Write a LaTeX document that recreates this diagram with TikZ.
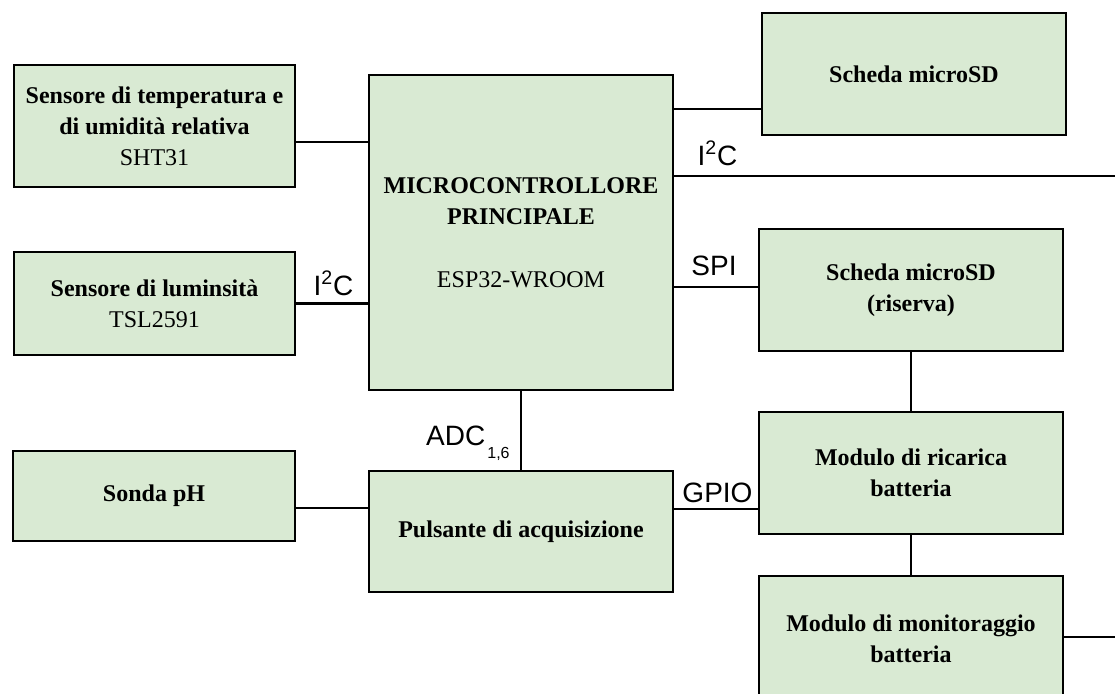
\documentclass[tikz,border=0pt]{standalone}
\usepackage{fontspec}
\setmainfont{Liberation Serif}
\newfontfamily\arialfont{Liberation Sans}
\definecolor{boxgreen}{HTML}{D9EAD3}

\begin{document}
\begin{tikzpicture}[x=0.5pt,y=-0.5pt,
    block/.style={shape=rectangle,draw=black,line width=1.3pt,fill=boxgreen,align=center,inner sep=2pt,
        font=\fontsize{12}{15.5}\selectfont},
    bus/.style={draw=black,line width=1.2pt},
    lbl/.style={font=\arialfont\fontsize{14}{16}\selectfont,inner sep=0pt,anchor=base}]
        \useasboundingbox (0,0) rectangle (1115,693);
        \clip (0,0) rectangle (1115,693);

        \node[block,minimum width=140.5pt,minimum height=61pt] (temp) at (154.5,126) {\textbf{Sensore di temperatura e}\\\textbf{di umidità relativa}\\SHT31};
        \node[block,minimum width=140.5pt,minimum height=51.5pt] (lum) at (154.5,303.5) {\textbf{Sensore di luminsità}\\TSL2591};
        \node[block,minimum width=141pt,minimum height=45pt] (sonda) at (154,496) {\textbf{Sonda pH}};
        \node[block,minimum width=152pt,minimum height=157.5pt] (micro) at (521,232.5) {\textbf{MICROCONTROLLORE}\\\textbf{PRINCIPALE}\\[16pt]ESP32-WROOM};
        \node[block,minimum width=152pt,minimum height=60.5pt] (puls) at (521,531.5) {\textbf{Pulsante di acquisizione}};
        \node[block,minimum width=152pt,minimum height=61pt] (sd) at (914,74) {\textbf{Scheda microSD}};
        \node[block,minimum width=152pt,minimum height=61pt] (sdr) at (911,290) {\textbf{Scheda microSD}\\\textbf{(riserva)}};
        \node[block,minimum width=152pt,minimum height=61pt] (ric) at (911,473) {\textbf{Modulo di ricarica}\\\textbf{batteria}};
        \node[block,minimum width=152pt,minimum height=63pt] (mon) at (911,639) {\textbf{Modulo di monitoraggio}\\\textbf{batteria}};

        \coordinate (i2cEnd) at (1115,176);
        \coordinate (monEnd) at (1115,637);

	\path[bus] ([yshift=-8pt]temp.east) -- ([yshift=-8pt]temp.east -| micro.west);
	\path[bus] (lum.east) -- (lum.east -| micro.west);
	\path[bus] ([yshift=-6pt]sonda.east) -- ([yshift=-6pt]sonda.east -| puls.west);
	\path[bus] ([yshift=-17.5pt]sd.west -| micro.east) -- ([yshift=-17.5pt]sd.west);
	\path[bus] (micro.east |- i2cEnd) -- (i2cEnd);
	\path[bus] ([yshift=1.5pt]sdr.west -| micro.east) -- ([yshift=1.5pt]sdr.west);
	\path[bus] (micro.south) -- (puls.north);
	\path[bus] ([yshift=-18pt]ric.west -| puls.east) -- ([yshift=-18pt]ric.west);
	\path[bus] (sdr.south) -- (ric.north);
	\path[bus] (ric.south) -- (mon.north);
	\path[bus] (mon.east |- monEnd) -- (monEnd);

        \node[lbl] (lblLum) at (333.5,295) {I\textsuperscript{2}C};
        \node[lbl] (lblOut) at (717.5,165) {I\textsuperscript{2}C};
        \node[lbl] (lblSpi) at (714,275) {SPI};
        \node[lbl] (lblGpio) at (717.5,502) {GPIO};
        \node[lbl,anchor=base east] (lblAdc) at (510,445) {ADC\kern1pt\raisebox{-6.5pt}{\fontsize{8}{8}\selectfont 1,6}};
\end{tikzpicture}
\end{document}
